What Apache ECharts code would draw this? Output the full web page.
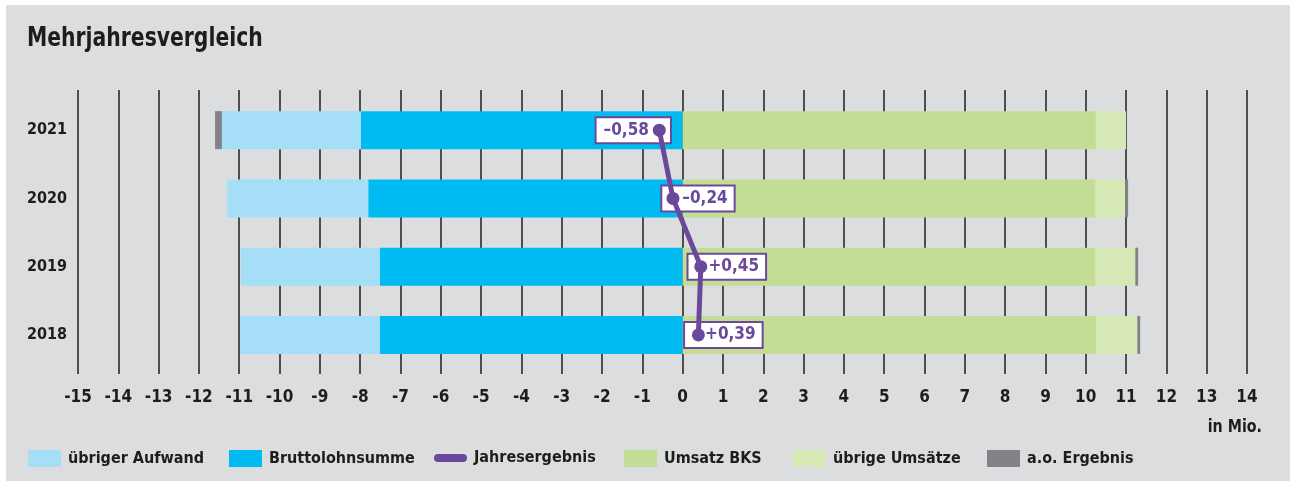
<!DOCTYPE html>
<html>
<head>
<meta charset="utf-8">
<script src="https://cdn.jsdelivr.net/npm/echarts@6/dist/echarts.min.js"></script>
<style>
html,body{margin:0;padding:0;background:#ffffff;}
#chart{width:1290px;height:486px;}
</style>
</head>
<body>
<div id="chart"></div>
<script>
const years = ['2021', '2020', '2019', '2018'];
const bruttolohnsumme = [-7.98, -7.80, -7.51, -7.51];
const uebrigerAufwand = [-3.45, -3.50, -3.45, -3.47];
const umsatzBKS = [10.25, 10.24, 10.24, 10.26];
const uebrigeUmsaetze = [0.75, 0.74, 0.99, 1.02];
const aoErgebnis = [-0.17, 0.07, 0.07, 0.07];
const jahresergebnis = [-0.58, -0.24, 0.45, 0.39];
const xTicks = {min: -15, max: 14, interval: 1};
const legendNames = ['übriger Aufwand', 'Bruttolohnsumme', 'Jahresergebnis', 'Umsatz BKS', 'übrige Umsätze', 'a.o. Ergebnis'];

const FONT = '"DejaVu Sans Condensed", "DejaVu Sans", sans-serif';
const TXT = '#1d1d1b';
const PURPLE = '#6c489d';
const labelOffsets = [-26, 25, 26, 25];
const labelPads = [[4, 21, 3, 7], [4, 6, 3, 20], [4, 6, 3, 20], [4, 6, 3, 20]];
const legendLefts = [28, 229, 434, 624, 793, 987];
const LINE_ICON = 'path://M4,0 H29 A4,4 0 0 1 29,8 H4 A4,4 0 0 1 4,0 Z';

function fmt(v) {
  const s = v < 0 ? '\u2013' : '+';
  return s + Math.abs(v).toFixed(2).replace('.', ',');
}

const chart = echarts.init(document.getElementById('chart'), null, {renderer: 'canvas'});
const barCommon = {type: 'bar', stack: 'total', xAxisIndex: 1, yAxisIndex: 1, barWidth: 38, z: 2};

const legends = legendNames.map((n, i) => ({
  left: legendLefts[i], top: 450, padding: 0, itemWidth: 33, itemHeight: 17, itemGap: 0,
  selectedMode: false,
  textStyle: {fontFamily: FONT, fontWeight: 'bold', fontSize: 16, color: TXT, padding: [2, 0, 0, 2]},
  data: [{name: n, icon: n === 'Jahresergebnis' ? LINE_ICON : 'rect'}]
}));

chart.setOption({
  backgroundColor: 'transparent',
  animation: false,
  textStyle: {fontFamily: FONT},
  graphic: [
    {type: 'rect', z: -10, silent: true, shape: {x: 6, y: 5, width: 1284, height: 476}, style: {fill: '#dcdddf'}},
    {type: 'text', x: 27, y: 26, scaleX: 0.87, silent: true,
     style: {text: 'Mehrjahresvergleich', font: 'bold 26px ' + FONT, fill: TXT}},
    {type: 'text', x: 1262, y: 418, scaleX: 0.88, silent: true,
     style: {text: 'in Mio.', font: 'bold 18px ' + FONT, fill: TXT, align: 'right'}}
  ],
  legend: legends,
  grid: [
    {left: 78, width: 1169, top: 90, height: 284},
    {left: 78, width: 1169, top: 96, height: 273}
  ],
  xAxis: [
    {
      gridIndex: 0, type: 'value', min: xTicks.min, max: xTicks.max, interval: xTicks.interval,
      axisLine: {show: false}, axisTick: {show: false},
      splitLine: {show: true, lineStyle: {color: '#353535', width: 1.7}},
      axisLabel: {margin: 15, fontFamily: FONT, fontWeight: 'bold', fontSize: 17, color: TXT, showMaxLabel: true, showMinLabel: true}
    },
    {
      gridIndex: 1, type: 'value', min: xTicks.min, max: xTicks.max, interval: xTicks.interval,
      show: false, splitLine: {show: false}
    }
  ],
  yAxis: [
    {gridIndex: 0, type: 'category', data: years, show: false},
    {
      gridIndex: 1, type: 'category', data: years, inverse: true,
      axisLine: {show: false}, axisTick: {show: false},
      axisLabel: {margin: 11, fontFamily: FONT, fontWeight: 'bold', fontSize: 16, color: TXT}
    }
  ],
  series: [
    Object.assign({name: 'Bruttolohnsumme', data: bruttolohnsumme, itemStyle: {color: '#00bbf1'}}, barCommon),
    Object.assign({name: 'übriger Aufwand', data: uebrigerAufwand, itemStyle: {color: '#a6def8'}}, barCommon),
    Object.assign({name: 'Umsatz BKS', data: umsatzBKS, itemStyle: {color: '#c3dd95'}}, barCommon),
    Object.assign({name: 'übrige Umsätze', data: uebrigeUmsaetze, itemStyle: {color: '#d5e8b6'}}, barCommon),
    Object.assign({name: 'a.o. Ergebnis', data: aoErgebnis, itemStyle: {color: '#818386'}}, barCommon),
    {
      name: 'Jahresergebnis-Label', type: 'scatter', xAxisIndex: 1, yAxisIndex: 1, z: 3,
      symbolSize: 1, itemStyle: {color: 'rgba(0,0,0,0)', opacity: 1}, silent: true,
      data: jahresergebnis.map((v, i) => ({
        value: [v, years[i]],
        label: {
          show: true, position: 'inside', offset: [labelOffsets[i], 0],
          formatter: () => fmt(v), opacity: 1,
          fontFamily: FONT, fontWeight: 'bold', fontSize: 17, color: PURPLE,
          backgroundColor: '#ffffff', borderColor: PURPLE, borderWidth: 2,
          padding: labelPads[i]
        }
      }))
    },
    {
      name: 'Jahresergebnis', type: 'line', xAxisIndex: 1, yAxisIndex: 1, z: 5,
      data: jahresergebnis.map((v, i) => [v, years[i]]),
      symbol: 'circle', symbolSize: 13,
      lineStyle: {color: PURPLE, width: 5},
      itemStyle: {color: PURPLE}
    }
  ]
});
</script>
</body>
</html>
